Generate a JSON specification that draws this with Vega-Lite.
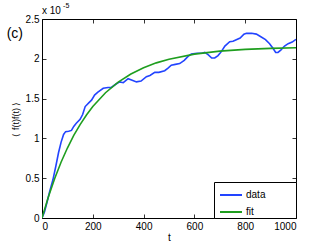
{
  "$schema": "https://vega.github.io/schema/vega-lite/v6.json",
  "autosize": "none",
  "padding": {"left": 42, "top": 19, "right": 31, "bottom": 28},
  "width": 254,
  "height": 199,
  "background": "white",
  "config": {
    "view": {"stroke": "black", "strokeWidth": 1},
    "font": "Liberation Sans",
    "axis": {
      "domain": false,
      "grid": false,
      "tickSize": -4,
      "tickColor": "black",
      "tickWidth": 0.8,
      "labelColor": "black",
      "labelFont": "Liberation Sans",
      "labelFontSize": 10,
      "titleFont": "Liberation Sans",
      "titleFontSize": 10,
      "titleFontWeight": "normal",
      "titleColor": "black"
    }
  },
  "datasets": {
    "curves": [
      {"t": 0, "v": 0, "series": "data"},
      {"t": 10, "v": 0.08, "series": "data"},
      {"t": 20, "v": 0.2, "series": "data"},
      {"t": 30, "v": 0.33, "series": "data"},
      {"t": 43, "v": 0.48, "series": "data"},
      {"t": 55, "v": 0.66, "series": "data"},
      {"t": 65, "v": 0.82, "series": "data"},
      {"t": 75, "v": 0.95, "series": "data"},
      {"t": 85, "v": 1.05, "series": "data"},
      {"t": 93, "v": 1.085, "series": "data"},
      {"t": 105, "v": 1.09, "series": "data"},
      {"t": 116, "v": 1.1, "series": "data"},
      {"t": 125, "v": 1.15, "series": "data"},
      {"t": 135, "v": 1.19, "series": "data"},
      {"t": 150, "v": 1.24, "series": "data"},
      {"t": 160, "v": 1.3, "series": "data"},
      {"t": 170, "v": 1.4, "series": "data"},
      {"t": 185, "v": 1.45, "series": "data"},
      {"t": 195, "v": 1.48, "series": "data"},
      {"t": 207, "v": 1.545, "series": "data"},
      {"t": 220, "v": 1.58, "series": "data"},
      {"t": 241, "v": 1.63, "series": "data"},
      {"t": 260, "v": 1.64, "series": "data"},
      {"t": 273, "v": 1.64, "series": "data"},
      {"t": 290, "v": 1.68, "series": "data"},
      {"t": 306, "v": 1.71, "series": "data"},
      {"t": 320, "v": 1.7, "series": "data"},
      {"t": 339, "v": 1.75, "series": "data"},
      {"t": 355, "v": 1.73, "series": "data"},
      {"t": 372, "v": 1.71, "series": "data"},
      {"t": 390, "v": 1.72, "series": "data"},
      {"t": 411, "v": 1.775, "series": "data"},
      {"t": 425, "v": 1.79, "series": "data"},
      {"t": 444, "v": 1.83, "series": "data"},
      {"t": 460, "v": 1.83, "series": "data"},
      {"t": 483, "v": 1.85, "series": "data"},
      {"t": 495, "v": 1.88, "series": "data"},
      {"t": 509, "v": 1.92, "series": "data"},
      {"t": 525, "v": 1.93, "series": "data"},
      {"t": 542, "v": 1.94, "series": "data"},
      {"t": 560, "v": 1.98, "series": "data"},
      {"t": 575, "v": 2.03, "series": "data"},
      {"t": 588, "v": 2.06, "series": "data"},
      {"t": 610, "v": 2.07, "series": "data"},
      {"t": 630, "v": 2.07, "series": "data"},
      {"t": 641, "v": 2.08, "series": "data"},
      {"t": 655, "v": 2.05, "series": "data"},
      {"t": 668, "v": 2.01, "series": "data"},
      {"t": 680, "v": 2.01, "series": "data"},
      {"t": 693, "v": 2.04, "series": "data"},
      {"t": 706, "v": 2.09, "series": "data"},
      {"t": 720, "v": 2.16, "series": "data"},
      {"t": 739, "v": 2.215, "series": "data"},
      {"t": 752, "v": 2.22, "series": "data"},
      {"t": 765, "v": 2.24, "series": "data"},
      {"t": 780, "v": 2.26, "series": "data"},
      {"t": 795, "v": 2.31, "series": "data"},
      {"t": 805, "v": 2.32, "series": "data"},
      {"t": 825, "v": 2.32, "series": "data"},
      {"t": 844, "v": 2.31, "series": "data"},
      {"t": 860, "v": 2.28, "series": "data"},
      {"t": 880, "v": 2.24, "series": "data"},
      {"t": 896, "v": 2.19, "series": "data"},
      {"t": 910, "v": 2.13, "series": "data"},
      {"t": 920, "v": 2.08, "series": "data"},
      {"t": 929, "v": 2.08, "series": "data"},
      {"t": 940, "v": 2.11, "series": "data"},
      {"t": 955, "v": 2.16, "series": "data"},
      {"t": 969, "v": 2.19, "series": "data"},
      {"t": 985, "v": 2.21, "series": "data"},
      {"t": 1000, "v": 2.245, "series": "data"},
      {"t": 0, "v": 0, "series": "fit"},
      {"t": 25, "v": 0.265, "series": "fit"},
      {"t": 50, "v": 0.497, "series": "fit"},
      {"t": 75, "v": 0.701, "series": "fit"},
      {"t": 100, "v": 0.879, "series": "fit"},
      {"t": 125, "v": 1.037, "series": "fit"},
      {"t": 150, "v": 1.173, "series": "fit"},
      {"t": 175, "v": 1.294, "series": "fit"},
      {"t": 200, "v": 1.4, "series": "fit"},
      {"t": 250, "v": 1.574, "series": "fit"},
      {"t": 300, "v": 1.707, "series": "fit"},
      {"t": 350, "v": 1.809, "series": "fit"},
      {"t": 400, "v": 1.888, "series": "fit"},
      {"t": 450, "v": 1.949, "series": "fit"},
      {"t": 500, "v": 1.995, "series": "fit"},
      {"t": 600, "v": 2.059, "series": "fit"},
      {"t": 700, "v": 2.096, "series": "fit"},
      {"t": 800, "v": 2.118, "series": "fit"},
      {"t": 900, "v": 2.131, "series": "fit"},
      {"t": 1000, "v": 2.139, "series": "fit"}
    ]
  },
  "layer": [
    {
      "data": {"name": "curves"},
      "mark": {"type": "line", "strokeWidth": 1.6, "clip": true},
      "encoding": {
        "x": {
          "field": "t", "type": "quantitative",
          "scale": {"domain": [0, 1000], "nice": false, "zero": false},
          "axis": {"orient": "bottom", "values": [0, 200, 400, 600, 800, 1000], "format": "d", "title": "t", "labelPadding": 7, "titlePadding": 1}
        },
        "y": {
          "field": "v", "type": "quantitative",
          "scale": {"domain": [0, 2.5], "nice": false, "zero": false},
          "axis": {"orient": "left", "values": [0, 0.5, 1, 1.5, 2, 2.5], "format": "~g", "title": "⟨ f(t)f(t) ⟩", "titleFontSize": 9, "labelPadding": 7, "titlePadding": 5}
        },
        "color": {
          "field": "series", "type": "nominal",
          "scale": {"domain": ["data", "fit"], "range": ["#2244ff", "#1f9e1f"]},
          "legend": {
            "title": "MMM",
            "titleOrient": "right",
            "titleColor": "white",
            "titleFontSize": 10,
            "titleFontWeight": "normal",
            "titlePadding": 5,
            "orient": "bottom-right",
            "offset": 0,
            "symbolType": "stroke",
            "symbolSize": 484,
            "symbolStrokeWidth": 2,
            "symbolOffset": 4,
            "labelFontSize": 10,
            "labelFont": "Liberation Sans",
            "labelColor": "black",
            "labelOffset": 3,
            "padding": 1,
            "rowPadding": 0,
            "strokeColor": "black",
            "fillColor": "white",
            "cornerRadius": 0
          }
        }
      }
    },
    {
      "data": {"name": "curves"},
      "mark": {"type": "line", "opacity": 0},
      "encoding": {
        "x": {
          "field": "t", "type": "quantitative",
          "scale": {"domain": [0, 1000], "nice": false, "zero": false},
          "axis": {"orient": "top", "values": [0, 200, 400, 600, 800, 1000], "labels": false, "title": null}
        },
        "y": {
          "field": "v", "type": "quantitative",
          "scale": {"domain": [0, 2.5], "nice": false, "zero": false},
          "axis": {"orient": "right", "values": [0, 0.5, 1, 1.5, 2, 2.5], "labels": false, "title": null}
        }
      }
    },
    {
      "data": {"values": [{}]},
      "mark": {"type": "text", "text": "(c)", "fontSize": 14, "font": "Liberation Sans", "align": "center", "baseline": "middle", "color": "black"},
      "encoding": {
        "x": {"datum": -107, "type": "quantitative", "axis": null, "scale": {"domain": [0, 1000], "nice": false, "zero": false}},
        "y": {"datum": 2.31, "type": "quantitative", "axis": null, "scale": {"domain": [0, 2.5], "nice": false, "zero": false}}
      }
    },
    {
      "data": {"values": [{}]},
      "mark": {"type": "text", "text": "x 10", "fontSize": 10, "font": "Liberation Sans", "align": "left", "baseline": "alphabetic", "color": "black"},
      "encoding": {
        "x": {"datum": 0, "type": "quantitative", "axis": null, "scale": {"domain": [0, 1000], "nice": false, "zero": false}},
        "y": {"datum": 2.56, "type": "quantitative", "axis": null, "scale": {"domain": [0, 2.5], "nice": false, "zero": false}}
      }
    },
    {
      "data": {"values": [{}]},
      "mark": {"type": "text", "text": "-5", "fontSize": 7, "font": "Liberation Sans", "align": "left", "baseline": "alphabetic", "color": "black"},
      "encoding": {
        "x": {"datum": 83, "type": "quantitative", "axis": null, "scale": {"domain": [0, 1000], "nice": false, "zero": false}},
        "y": {"datum": 2.64, "type": "quantitative", "axis": null, "scale": {"domain": [0, 2.5], "nice": false, "zero": false}}
      }
    }
  ],
  "resolve": {"axis": {"x": "independent", "y": "independent"}}
}
